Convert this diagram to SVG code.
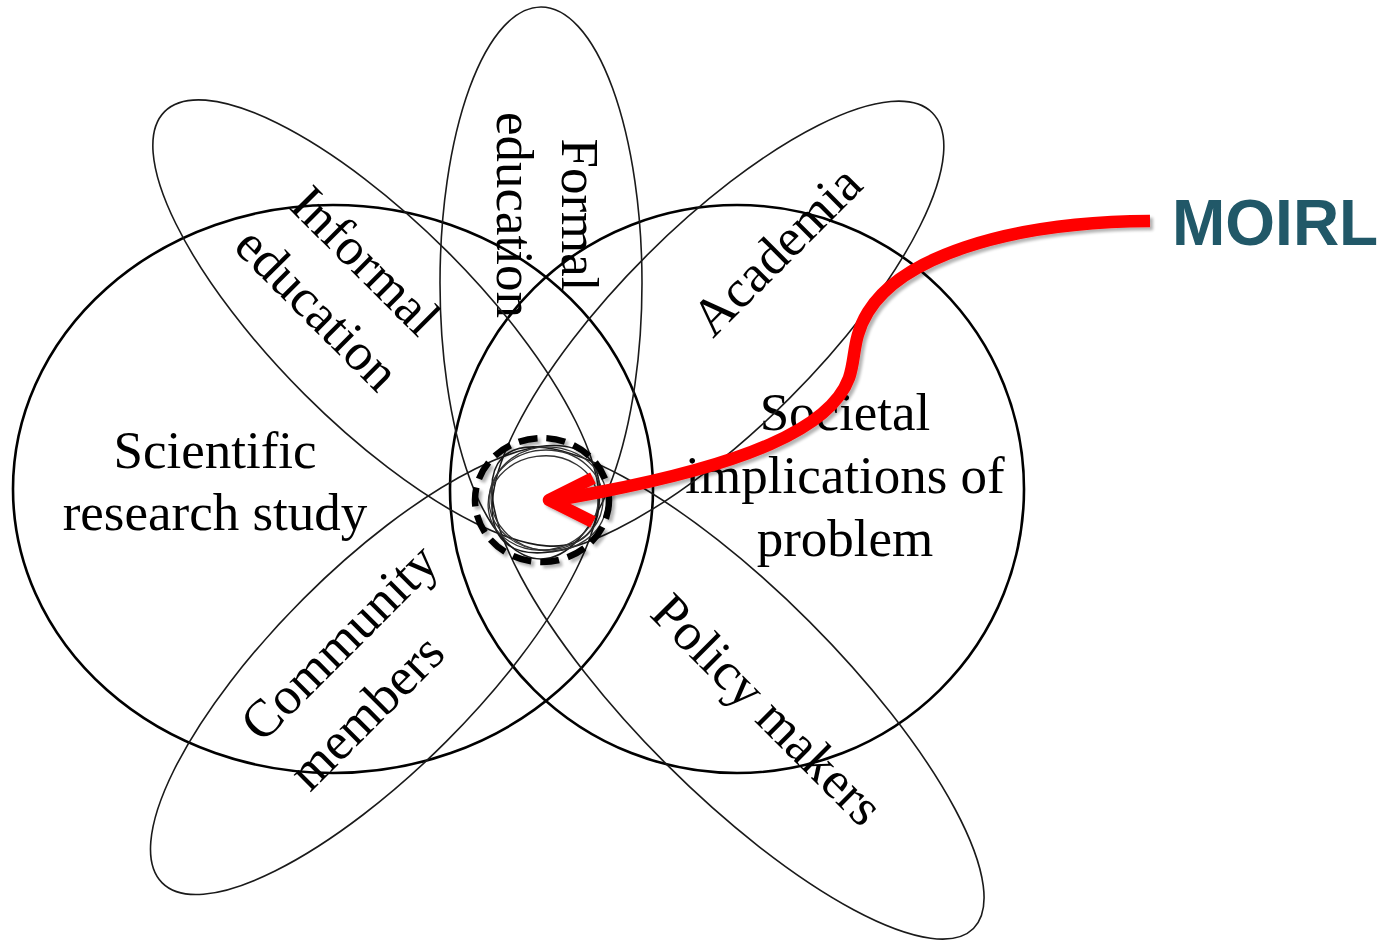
<svg xmlns="http://www.w3.org/2000/svg" width="1397" height="945" viewBox="0 0 1397 945">
<defs>
<style>
.big{fill:none;stroke:#000;stroke-width:2.6}
.ell{fill:none;stroke:#1a1a1a;stroke-width:1.6}
.thin{fill:none;stroke:#333;stroke-width:1.3}
.lbl{font-family:"Liberation Serif","Times New Roman",serif;font-size:53px;fill:#000}
.moirl{font-family:"Liberation Sans",Arial,sans-serif;font-size:64px;font-weight:bold;fill:#215868}
.red{fill:none;stroke:#ff0000;stroke-width:12.5;stroke-linecap:butt;stroke-linejoin:round}
</style>
<filter id="sh" x="-10%" y="-10%" width="130%" height="130%">
<feGaussianBlur in="SourceAlpha" stdDeviation="1.5"/>
<feOffset dx="3" dy="3" result="o"/>
<feComponentTransfer><feFuncA type="linear" slope="0.3"/></feComponentTransfer>
<feMerge><feMergeNode/><feMergeNode in="SourceGraphic"/></feMerge>
</filter>
</defs>
<rect width="1397" height="945" fill="#fff"/>

<g id="scientific-research-study">
<ellipse class="big" cx="333" cy="489" rx="320" ry="284"/>
<text class="lbl" text-anchor="middle" x="215" y="468">Scientific</text>
<text class="lbl" text-anchor="middle" x="215" y="530">research study</text>
</g>

<g id="societal-implications">
<ellipse class="big" cx="737" cy="489" rx="287" ry="284"/>
<text class="lbl" text-anchor="middle" x="845" y="430">Societal</text>
<text class="lbl" text-anchor="middle" x="845" y="493">implications of</text>
<text class="lbl" text-anchor="middle" x="845" y="556">problem</text>
</g>

<g id="formal-education">
<ellipse class="ell" cx="541" cy="283" rx="101" ry="276"/>
<g transform="translate(530,215) rotate(90)">
<text class="lbl" text-anchor="middle" x="0" y="-32">Formal</text>
<text class="lbl" text-anchor="middle" x="0" y="33">education</text>
</g>
</g>

<g id="informal-education">
<ellipse class="ell" cx="376" cy="323" rx="101" ry="299" transform="rotate(-45 376 323)"/>
<g transform="translate(329,297) rotate(45)">
<text class="lbl" text-anchor="middle" x="0" y="-34">Informal</text>
<text class="lbl" text-anchor="middle" x="0" y="34">education</text>
</g>
</g>

<g id="academia">
<ellipse class="ell" cx="718" cy="327" rx="101" ry="303" transform="rotate(45 718 327)"/>
<text class="lbl" text-anchor="middle" transform="translate(789,263) rotate(-45)">Academia</text>
</g>

<g id="community-members">
<ellipse class="ell" cx="375" cy="670" rx="101" ry="301" transform="rotate(45 375 670)"/>
<text class="lbl" transform="translate(262,744) rotate(-45)">Community</text>
<text class="lbl" transform="translate(310,793) rotate(-45)">members</text>
</g>

<g id="policy-makers">
<ellipse class="ell" cx="738" cy="693" rx="101" ry="333" transform="rotate(-45 738 693)"/>
<text class="lbl" text-anchor="middle" transform="translate(755,722) rotate(45)">Policy makers</text>
</g>

<g id="moirl-core">
<ellipse class="thin" cx="546" cy="500" rx="57" ry="50"/>
<ellipse class="thin" cx="543" cy="503" rx="55" ry="47" transform="rotate(-8 543 503)"/>
<ellipse class="thin" cx="549" cy="499" rx="58" ry="52" transform="rotate(6 549 499)"/>
<ellipse cx="542" cy="500" rx="67" ry="62" fill="none" stroke="#000" stroke-width="6.5" stroke-dasharray="19 9" filter="url(#sh)"/>
</g>

<g id="moirl-label">
<text class="moirl" x="1172" y="245">MOIRL</text>
</g>

<g id="connectors" filter="url(#sh)">
<path class="red" d="M1150,221 C1000,222 900,260 868,312 C852,338 856,358 849,378 C830,430 740,465 600,492 L562,499"/>
<path class="red" d="M593,478 L549,500 L593,522" stroke-linecap="round"/>
</g>
</svg>
